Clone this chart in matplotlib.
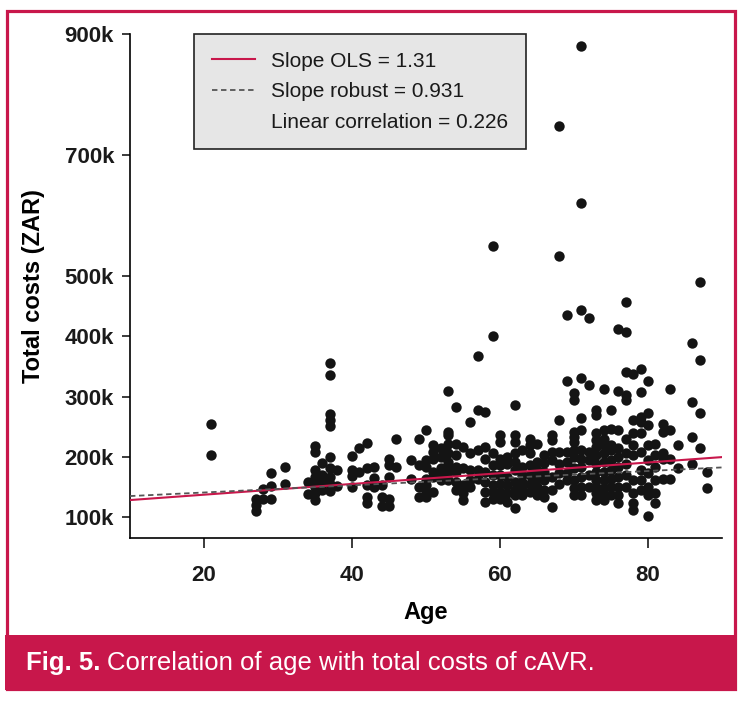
import numpy as np
import matplotlib
matplotlib.use('Agg')
import matplotlib.pyplot as plt
from matplotlib.lines import Line2D
from matplotlib.patches import Rectangle

# ages and total costs (thousand ZAR), one list of costs per age
AGES = [21, 27, 28, 29, 31, 34, 35, 36, 37, 38, 40, 41, 42, 43, 44, 45, 46, 48,
        49, 50, 51, 52, 53, 54, 55, 56, 57, 58, 59, 60, 61, 62, 63, 64, 65, 66,
        67, 68, 69, 70, 71, 72, 73, 74, 75, 76, 77, 78, 79, 80, 81, 82, 83, 84,
        86, 87, 88]
COSTS_K = [
    [254, 203],
    [130, 120, 111],
    [147, 130],
    [174, 152, 130],
    [183, 155],
    [159, 139],
    [218, 208, 178, 167, 160, 151, 140, 129],
    [190, 170, 158, 145],
    [356, 335, 271, 261, 251, 200, 181, 167, 156, 143],
    [179, 152],
    [201, 178, 168, 151],
    [215, 175],
    [223, 181, 153, 134, 124],
    [184, 165, 151],
    [153, 134, 118],
    [197, 186, 167, 131, 118],
    [230, 184],
    [195, 164],
    [230, 186, 151, 134],
    [244, 195, 184, 164, 153, 142, 134],
    [219, 208, 197, 175, 167, 142],
    [214, 200, 181, 170, 162],
    [309, 241, 236, 222, 206, 192, 184, 175, 162],
    [283, 222, 203, 184, 175, 159, 145],
    [217, 181, 153, 140, 128],
    [258, 206, 178, 162, 151],
    [367, 277, 211, 178, 164],
    [275, 217, 197, 175, 159, 142, 126],
    [549, 400, 206, 186, 170, 153, 142, 131],
    [236, 225, 197, 186, 170, 156, 142, 131],
    [200, 189, 167, 153, 140, 126],
    [286, 236, 225, 206, 192, 178, 159, 145, 137, 115],
    [211, 184, 170, 159, 148, 137],
    [230, 219, 206, 186, 170, 156, 142],
    [222, 192, 178, 164, 151, 137],
    [203, 190, 175, 162, 145, 134],
    [236, 228, 208, 195, 167, 145, 117],
    [748, 532, 261, 208, 189, 173, 156],
    [435, 325, 208, 192, 173, 162],
    [305, 294, 242, 233, 225, 211, 200, 181, 162, 148, 137],
    [880, 621, 443, 330, 265, 244, 211, 197, 184, 167, 151, 137],
    [430, 319, 208, 195, 170, 151],
    [277, 269, 239, 228, 217, 203, 189, 175, 162, 151, 140, 128],
    [313, 244, 230, 219, 206, 192, 175, 162, 148, 137, 128],
    [277, 247, 219, 211, 195, 178, 164, 151, 137],
    [412, 309, 244, 214, 200, 184, 167, 151, 137, 123],
    [456, 406, 341, 303, 295, 230, 206, 189, 170, 151],
    [338, 261, 239, 219, 203, 162, 140, 123, 112],
    [346, 308, 266, 258, 239, 208, 178, 162, 145],
    [326, 272, 253, 219, 195, 173, 151, 137, 102],
    [222, 203, 184, 162, 140, 123],
    [255, 241, 206, 197, 164],
    [313, 244, 197, 164],
    [219, 181],
    [389, 291, 233, 189],
    [489, 360, 273, 215],
    [175, 149],
]

# fitted lines, read at the ends of the age axis
LINE_AGES = [10, 90]
OLS_K     = [128.6, 199.7]
ROBUST_K  = [135.2, 182.6]

X_TICKS = [20, 40, 60, 80]
Y_TICKS = [100, 200, 300, 400, 500, 700, 900]
LEGEND_LABELS = ['Slope OLS = 1.31', 'Slope robust = 0.931',
                 'Linear correlation = 0.226']

RED = '#C8174B'
W, H = 744, 702

plt.rcParams['font.family'] = ['Liberation Sans', 'DejaVu Sans']

age = np.repeat(AGES, [len(c) for c in COSTS_K])
cost = np.concatenate([np.array(c, dtype=float) for c in COSTS_K])

fig = plt.figure(figsize=(W / 100, H / 100), dpi=100)

# frame and caption band
fig.patches.append(Rectangle((5 / W, 1 - 690 / H), 732 / W, 55 / H,
                             transform=fig.transFigure, facecolor=RED,
                             edgecolor='none', zorder=0))
fig.patches.append(Rectangle((7 / W, 1 - 689 / H), 728 / W, 678 / H,
                             transform=fig.transFigure, facecolor='none',
                             edgecolor=RED, linewidth=2.3, zorder=1))

ax = fig.add_axes([130 / W, 1 - 538.3 / H, 592 / W, 504.3 / H])
ax.scatter(age, cost, s=56, color='#141414', linewidths=0, zorder=2)
ax.plot(LINE_AGES, OLS_K, color=RED, linewidth=1.5, zorder=3)
ax.plot(LINE_AGES, ROBUST_K, color='#555555', linewidth=1.3,
        linestyle=(0, (3, 2)), zorder=3)

ax.set_xlim(10, 90)
ax.set_ylim(65.3, 900)
ax.set_xticks(X_TICKS)
ax.set_yticks(Y_TICKS)
ax.set_yticklabels([f'{v}k' for v in Y_TICKS])
ax.spines['top'].set_visible(False)
ax.spines['right'].set_visible(False)
for s in ('left', 'bottom'):
    ax.spines[s].set_linewidth(1.2)
ax.tick_params(axis='both', direction='out', width=1.2, labelsize=16,
               colors='#1a1a1a')
ax.tick_params(axis='x', length=7, pad=12)
ax.tick_params(axis='y', length=5.5, pad=6)
for lab in ax.get_xticklabels() + ax.get_yticklabels():
    lab.set_fontweight('bold')
ax.set_xlabel('Age', fontsize=17, fontweight='bold', labelpad=11)
ax.set_ylabel('Total costs (ZAR)', fontsize=17, fontweight='bold', labelpad=14)

handles = [Line2D([], [], color=RED, linewidth=1.5),
           Line2D([], [], color='#555555', linewidth=1.3, linestyle=(0, (3, 2))),
           Line2D([], [], linestyle='none')]
leg = ax.legend(handles, LEGEND_LABELS, loc='upper left',
                bbox_to_anchor=(194 / W, 1 - 34 / H),
                bbox_transform=fig.transFigure, borderaxespad=0,
                fontsize=15, handlelength=2.1, handletextpad=0.75,
                labelspacing=0.55, borderpad=0.85, fancybox=False,
                framealpha=1, facecolor='#E6E6E6', edgecolor='#222222')
leg.get_frame().set_linewidth(1.2)
for t in leg.get_texts():
    t.set_color('#1a1a1a')

# caption: bold figure number, then regular text
cy = 1 - 663 / H
t1 = fig.text(26 / W, cy, 'Fig. 5.', fontsize=18.5, fontweight='bold',
              color='white', va='center')
r = fig.canvas.get_renderer()
bb = t1.get_window_extent(renderer=r)
fig.text((bb.x1 + 6) / W, cy, 'Correlation of age with total costs of cAVR.',
         fontsize=18.5, color='white', va='center')

fig.savefig('out.png', dpi=100)
